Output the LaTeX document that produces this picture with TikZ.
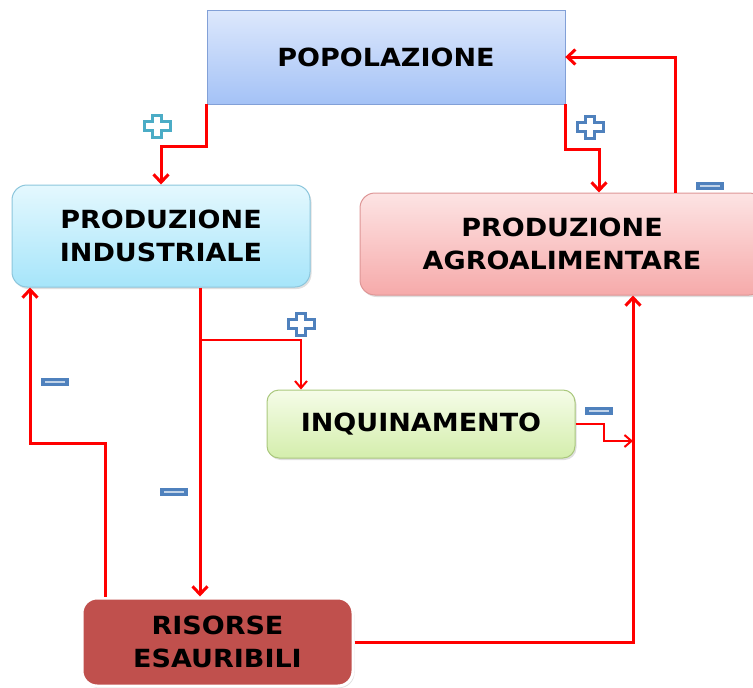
\documentclass[tikz,border=0pt]{standalone}
\usepackage{fontspec}
\usetikzlibrary{arrows.meta,shadows}
\newfontfamily\boxfont{DejaVu Sans}[FakeStretch=1.08]

\definecolor{linkred}{HTML}{FF0000}
\definecolor{pmblue}{HTML}{4F81BD}
\definecolor{pmteal}{HTML}{4BACC6}
\definecolor{risred}{HTML}{C0504D}

\tikzset{
  box/.style={rectangle, align=center, text=black,
              font=\boxfont\bfseries\fontsize{25}{33}\selectfont},
  roundbox/.style={box, rounded corners=15pt, line width=1pt,
              drop shadow={opacity=0.25, shadow xshift=1.5pt, shadow yshift=-2pt}},
  link/.style={draw=linkred, line width=3pt, -{Straight Barb[length=8pt,width=15pt]}},
  thinlink/.style={draw=linkred, line width=2pt, -{Straight Barb[length=7pt,width=12pt]}},
  plussign/.pic={
    \draw[line width=3pt, fill=white]
      (-4.5,-11) -- (4.5,-11) -- (4.5,-4.5) -- (13,-4.5) -- (13,4.5) -- (4.5,4.5) -- (4.5,11)
      -- (-4.5,11) -- (-4.5,4.5) -- (-13,4.5) -- (-13,-4.5) -- (-4.5,-4.5) -- cycle;
  },
  minussign/.pic={
    \fill[pmblue] (-14,-4) rectangle (14,4);
    \draw[line width=1.5pt, white!65!pmblue] (-10,0) -- (10,0);
  }
}

\begin{document}
\begin{tikzpicture}[x=1pt, y=-1pt, line join=miter]
\useasboundingbox (0,0) rectangle (753,688);
\clip (0,0) rectangle (753,688);

%boxes
\node[box, draw={rgb,255:red,130;green,160;blue,215}, top color={rgb,255:red,221;green,232;blue,252},
      bottom color={rgb,255:red,164;green,194;blue,246},
      minimum width=358pt, minimum height=94pt] (pop) at (386,57) {POPOLAZIONE};
\node[roundbox, draw={rgb,255:red,140;green,198;blue,220},
      top color={rgb,255:red,228;green,248;blue,254},
      bottom color={rgb,255:red,166;green,229;blue,250},
      minimum width=298pt, minimum height=102pt] (ind) at (161,236) {PRODUZIONE\\INDUSTRIALE};
\node[roundbox, draw={rgb,255:red,222;green,150;blue,150},
      top color={rgb,255:red,253;green,228;blue,228},
      bottom color={rgb,255:red,246;green,170;blue,170},
      minimum width=404pt, minimum height=102pt] (agro) at (562,244) {PRODUZIONE\\AGROALIMENTARE};
\node[roundbox, rounded corners=12pt, draw={rgb,255:red,170;green,200;blue,125},
      top color={rgb,255:red,245;green,252;blue,232},
      bottom color={rgb,255:red,212;green,238;blue,172},
      minimum width=308pt, minimum height=68pt] (inq) at (421,424) {INQUINAMENTO};
\node[roundbox, draw=white, line width=3pt, fill=risred,
      minimum width=271pt, minimum height=88pt] (ris) at (217.5,642) {RISORSE\\ESAURIBILI};

%connectors
\draw[link] (pop.south west) -- ++(0,42) -| (ind.north);
\draw[link] (pop.south east) -- ++(0,45) -| ([xshift=37]agro.north);
\draw[link] ([xshift=113]agro.north) |- (pop.east);
\draw[link] ([xshift=39]ind.south) -- ([xshift=39]ind.south |- ris.north);
\coordinate (split) at ([xshift=39,yshift=-52]ind.south);
\draw[thinlink] (split) -| ([xshift=-120]inq.north);
\coordinate (merge) at (633,441);
\draw[thinlink] (inq.east) -- ++(28,0) |- (merge);
\draw[link] (ris.east) -| ([xshift=71]agro.south);
\draw[link] ([xshift=-112]ris.north) -- ++(0,-153) -| ([xshift=-131]ind.south);

%signs
\pic[draw=pmteal] at (157,126) {plussign};
\pic[draw=pmblue] at (590,127) {plussign};
\pic[draw=pmblue] at (301,324) {plussign};
\pic at (710,186) {minussign};
\pic at (599,411) {minussign};
\pic at (55,382) {minussign};
\pic at (174,492) {minussign};
\end{tikzpicture}
\end{document}
